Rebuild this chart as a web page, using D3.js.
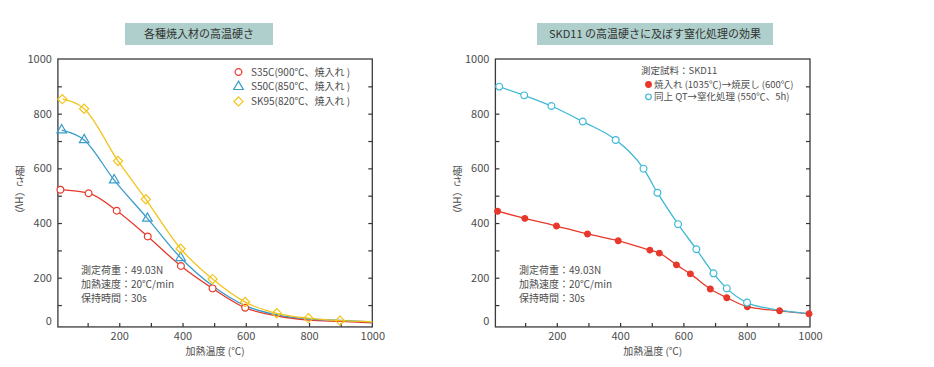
<!DOCTYPE html>
<html>
<head>
<meta charset="utf-8">
<script src="https://cdn.jsdelivr.net/npm/d3@7"></script>
<style>
  body { margin: 0; background: #fff; }
  svg text { font-family: "Noto Sans CJK JP", "Noto Sans", sans-serif; fill: #4d4d4d; }
</style>
</head>
<body>
<div id="chart"></div>
<script>
// data: left chart (各種焼入材)
var s35cTemp = [14, 103, 192, 290, 395, 495, 598, 700, 800, 900, 1000];
var s35cHv   = [522, 509, 445, 351, 243, 161, 90, 60, 45, 40, 35];
var s35cMarked = 7;
var s50cTemp = [18, 89, 184, 289, 394, 500, 600, 700, 800, 900, 1000];
var s50cHv   = [740, 704, 557, 417, 273, 166, 97, 64, 49, 44, 38];
var s50cMarked = 5;
var sk95Temp = [20, 89, 196, 284, 394, 495, 598, 698, 798, 898, 1000];
var sk95Hv   = [853, 818, 627, 487, 306, 195, 111, 70, 52, 43, 39];
var sk95Marked = 10;

// data: right chart (SKD11)
var qtTemp = [13, 99, 199, 297, 394, 494, 524, 578, 622, 685, 737, 802, 904, 997];
var qtHv   = [443, 417, 389, 360, 335, 301, 290, 247, 214, 159, 127, 94, 79, 68];
var nitTemp = [18, 97, 183, 282, 386, 474, 518, 583, 641, 695, 737, 801, 900, 1000];
var nitHv   = [899, 867, 828, 771, 704, 599, 511, 396, 304, 216, 161, 109, 82, 68];
var nitMarked = 12;

var leftLegend = ['S35C(900℃、焼入れ )', 'S50C(850℃、焼入れ )', 'SK95(820℃、焼入れ )'];
var rightLegend = ['焼入れ (1035℃)→焼戻し (600℃)', '同上 QT→窒化処理 (550℃、5h)'];
var notes = ['測定荷重：49.03N', '加熱速度：20℃/min', '保持時間：30s'];
var yTicks = d3.range(0, 1001, 100);
var xTicks = d3.range(100, 1000, 100);

var red = '#e8382b', blue = '#3a9dca', yellow = '#f3c41c', cyan = '#3db8d6';

var svg = d3.select('#chart').append('svg')
    .attr('width', 934).attr('height', 367);

function panel(opt) {
    var x = d3.scaleLinear().domain([0, 1000]).range(opt.xRange);
    var y = d3.scaleLinear().domain([0, 1000]).range([332.4, 59]);
    var left = x(6), right = x(1000), top = y(1000), bottom = y(20);
    var g = svg.append('g');

    // title box
    g.append('rect')
        .attr('x', opt.title[0]).attr('y', 23).attr('width', opt.title[1]).attr('height', 22)
        .attr('fill', '#aecfcb');
    g.append('text')
        .attr('x', opt.title[0] + opt.title[1] / 2).attr('y', 38)
        .attr('text-anchor', 'middle').attr('font-size', '11px')
        .style('fill', '#333')
        .text(opt.title[2]);

    // left axis
    var ya = g.append('g').attr('transform', 'translate(' + left + ',0)')
        .call(d3.axisLeft(y).tickValues(yTicks).tickSize(-4).tickPadding(6)
            .tickFormat(function(d) { return d % 200 === 0 ? d : ''; }));
    ya.select('.domain').remove();
    ya.selectAll('.tick').filter(function(d) { return d === 0; })
        .attr('transform', 'translate(0,' + (bottom - 5) + ')')
        .select('line').remove();
    ya.selectAll('.tick').filter(function(d) { return d === 1000; }).select('line').remove();

    // right axis ticks
    var yr = g.append('g').attr('transform', 'translate(' + right + ',0)')
        .call(d3.axisRight(y).tickValues(yTicks.filter(function(d) { return d > 0 && d < 1000; }))
            .tickSize(-4).tickFormat(''));
    yr.select('.domain').remove();

    // bottom axis
    var xa = g.append('g').attr('transform', 'translate(0,' + bottom + ')')
        .call(d3.axisBottom(x).tickValues(xTicks.concat([1000])).tickSize(-4).tickPadding(5)
            .tickFormat(function(d) { return d % 200 === 0 ? d : ''; }));
    xa.select('.domain').remove();
    xa.selectAll('.tick').filter(function(d) { return d === 1000; }).select('line').remove();

    g.selectAll('.tick line').attr('stroke', '#333').attr('stroke-width', 1.2);
    g.selectAll('.tick text').attr('font-size', '11px')
        .attr('font-family', '"Open Sans", "Noto Sans", sans-serif').style('fill', '#4d4d4d');

    // frame
    g.append('rect')
        .attr('x', left).attr('y', top)
        .attr('width', right - left).attr('height', bottom - top)
        .attr('fill', 'none').attr('stroke', '#3a3a3a').attr('stroke-width', 1.3);

    // axis titles
    g.append('text')
        .attr('x', (left + right) / 2).attr('y', 355)
        .attr('text-anchor', 'middle').attr('font-size', '10px')
        .text('加熱温度 (℃)');
    g.append('text')
        .attr('transform', 'translate(' + (left - 38) + ',' + 193 + ')')
        .attr('text-anchor', 'middle').attr('font-size', '10px')
        .style('writing-mode', 'vertical-rl')
        .text('硬さ（HV）');

    // notes
    g.append('g').selectAll('text').data(notes).enter().append('text')
        .attr('x', opt.notesX).attr('y', function(d, i) { return 274 + i * 14; })
        .attr('font-size', '10px')
        .text(function(d) { return d; });

    return { g: g, x: x, y: y };
}

function drawLine(p, temps, hvs, color) {
    var pts = temps.map(function(t, i) { return [t, hvs[i]]; });
    p.g.append('path')
        .datum(pts)
        .attr('fill', 'none').attr('stroke', color).attr('stroke-width', 1.3)
        .attr('d', d3.line()
            .x(function(d) { return p.x(d[0]); })
            .y(function(d) { return p.y(d[1]); })
            .curve(d3.curveMonotoneX));
    return pts;
}

function drawMarks(p, pts, n, type, color, fill) {
    var sym = d3.symbol().type(type.sym).size(type.size);
    p.g.append('g').selectAll('path')
        .data(pts.slice(0, n)).enter().append('path')
        .attr('transform', function(d) { return 'translate(' + p.x(d[0]) + ',' + p.y(d[1]) + ')' + (type.rot ? ' rotate(45)' : ''); })
        .attr('d', sym)
        .attr('fill', fill).attr('stroke', color).attr('stroke-width', 1.2);
}

var circ = { sym: d3.symbolCircle, size: 36 };
var dot = { sym: d3.symbolCircle, size: 26 };
var tri = { sym: d3.symbolTriangle, size: 40 };
var dia = { sym: d3.symbolSquare, size: 42, rot: true };

// ---- left chart ----
var pL = panel({ xRange: [56, 372.3], title: [125, 148, '各種焼入材の高温硬さ'], notesX: 81 });
var ptsR = drawLine(pL, s35cTemp, s35cHv, red);
var ptsB = drawLine(pL, s50cTemp, s50cHv, blue);
var ptsY = drawLine(pL, sk95Temp, sk95Hv, yellow);
drawMarks(pL, ptsR, s35cMarked, circ, red, '#fff');
drawMarks(pL, ptsB, s50cMarked, tri, blue, 'none');
drawMarks(pL, ptsY, sk95Marked, dia, yellow, 'none');

var legL = pL.g.append('g');
var legTypes = [[circ, red], [tri, blue], [dia, yellow]];
leftLegend.forEach(function(t, i) {
    var yy = 72 + i * 14.7;
    legL.append('path')
        .attr('transform', 'translate(238.5,' + yy + ')' + (legTypes[i][0].rot ? ' rotate(45)' : ''))
        .attr('d', d3.symbol().type(legTypes[i][0].sym).size(legTypes[i][0].size))
        .attr('fill', 'none').attr('stroke', legTypes[i][1]).attr('stroke-width', 1.2);
    legL.append('text').attr('x', 251).attr('y', yy + 3.5).attr('font-size', '10px').text(t);
});

// ---- right chart ----
var pR = panel({ xRange: [493.5, 810], title: [537, 236, 'SKD11 の高温硬さに及ぼす窒化処理の効果'], notesX: 519 });
var ptsQ = drawLine(pR, qtTemp, qtHv, red);
var ptsN = drawLine(pR, nitTemp, nitHv, cyan);
drawMarks(pR, ptsQ, qtTemp.length, dot, red, red);
drawMarks(pR, ptsN, nitMarked, circ, cyan, '#fff');

var legR = pR.g.append('g');
legR.append('text').attr('x', 641).attr('y', 73.5).attr('font-size', '9.5px').text('測定試料：SKD11');
rightLegend.forEach(function(t, i) {
    var yy = 84.5 + i * 12.3;
    legR.append('circle').attr('cx', 648.5).attr('cy', yy).attr('r', 2.8)
        .attr('fill', i === 0 ? red : '#fff').attr('stroke', i === 0 ? red : cyan).attr('stroke-width', 1.2);
    legR.append('text').attr('x', 654).attr('y', yy + 3.3).attr('font-size', '9.5px').text(t);
});
</script>
</body>
</html>
